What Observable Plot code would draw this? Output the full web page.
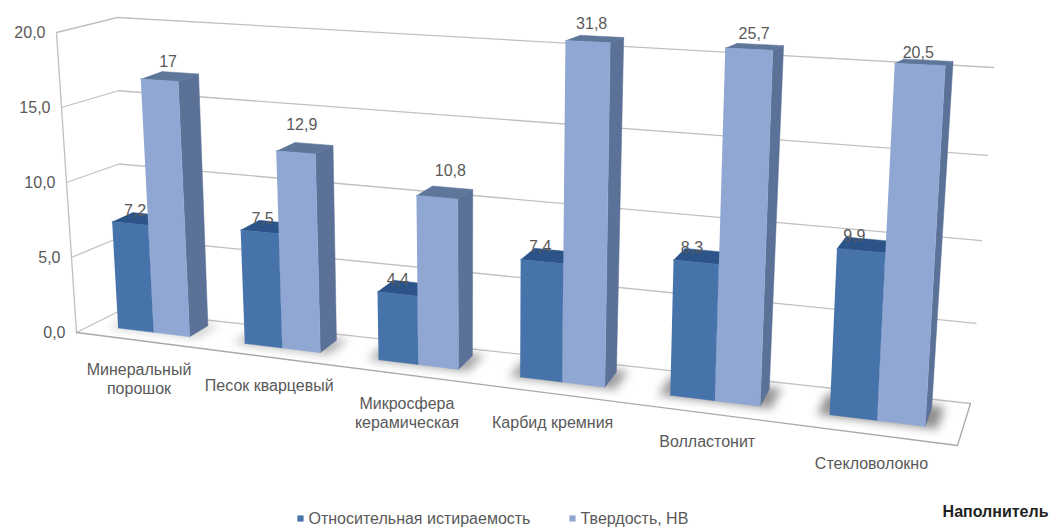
<!DOCTYPE html>
<html lang="ru">
<head>
<meta charset="utf-8">
<script src="https://cdn.jsdelivr.net/npm/d3@7"></script>
<script src="https://cdn.jsdelivr.net/npm/@observablehq/plot@0.6"></script>
<style>
  html, body { margin: 0; background: #fff; }
  svg { display: block; }
</style>
</head>
<body>
<div id="chart"></div>
<script>
// Filler categories and the two measured series
const categories = ["Минеральный\nпорошок", "Песок кварцевый", "Микросфера\nкерамическая", "Карбид кремния", "Волластонит", "Стекловолокно"];
const abrasion = [7.2, 7.5, 4.4, 7.4, 8.3, 9.9];
const hardness = [17, 12.9, 10.8, 31.8, 25.7, 20.5];
const seriesNames = ["Относительная истираемость", "Твердость, НВ"];
const yTicks = [0, 5, 10, 15, 20];
const axisTitle = "Наполнитель";

// Bars above the axis maximum are cut off just over the top of the wall
const barCap = 20.9;

// Corners of the 3D box on screen, keyed [category, depth, height]
const wallBox = {
  "000": [76, 332], "100": [957, 445], "010": [120, 310], "110": [970, 403],
  "001": [56, 32],  "101": [977, 77],  "011": [117, 17],  "111": [993, 67]
};
// The columns lean a little more than the walls do
const barBox = {
  ...wallBox,
  "001": [56, 36], "101": [977, 80], "011": [106, 20], "111": [993, 70]
};
const widthPerspective = -0.16;
const heightPerspective = -0.06;

const heightScale = Plot.scale({y: {domain: [0, 20], range: [0, 1]}});
const mix = (a, b, k) => a + (b - a) * k;

function project(t, v, value, box = wallBox) {
  const u = t * (1 + widthPerspective) / (1 + widthPerspective * t);
  const n0 = heightScale.apply(value);
  const c = heightPerspective * u;
  const n = n0 * (1 + c) / (1 + c * n0);
  return [0, 1].map((axis) => {
    const level = (h) => mix(
      mix(box[`00${h}`][axis], box[`10${h}`][axis], u),
      mix(box[`01${h}`][axis], box[`11${h}`][axis], u),
      v
    );
    return mix(level(0), level(1), n);
  });
}

// Column layout inside a category slot: gap 1.5 bar widths, two bars side by side
const slots = categories.length;
const barWidth = 1 / 3.5;
const depthFront = 0.35;
const depthBack = 0.8;
const barStart = (i, s) => (i + 0.75 * barWidth + s * barWidth) / slots;
const barEnd = (i, s) => (i + 0.75 * barWidth + (s + 1) * barWidth) / slots;

const palette = [
  {front: "#4673aa", top: "#2c5488", side: "#35588a"},
  {front: "#8fa7d2", top: "#5f769b", side: "#5b7197"}
];
const shadowStrength = [0.3, 0.5, 0.6, 0.65, 0.7, 0.75];

const faces = [];
const shadows = [];
function addFace(rows, id, fill, corners, box, opacity = 1) {
  for (const [t, v, h] of corners) {
    const [x, y] = project(t, v, h, box);
    rows.push({id, fill, x, y, opacity});
  }
}

categories.forEach((_, i) => {
  const a = barStart(i, 0) - 0.012, b = barEnd(i, 1) + 0.012;
  addFace(shadows, `s${i}`, "#6a6a6a", [[a, 0.32, 0], [b, 0.32, 0], [b, 0.86, 0], [a, 0.86, 0]], barBox, shadowStrength[i]);
  [abrasion[i], hardness[i]].forEach((value, s) => {
    const h = Math.min(value, barCap);
    const t0 = barStart(i, s), t1 = barEnd(i, s);
    const tone = palette[s];
    addFace(faces, `${i}-${s}-side`, tone.side, [[t1, depthFront, 0], [t1, depthBack, 0], [t1, depthBack, h], [t1, depthFront, h]], barBox);
    addFace(faces, `${i}-${s}-top`, tone.top, [[t0, depthFront, h], [t1, depthFront, h], [t1, depthBack, h], [t0, depthBack, h]], barBox);
    addFace(faces, `${i}-${s}-front`, tone.front, [[t0, depthFront, 0], [t1, depthFront, 0], [t1, depthFront, h], [t0, depthFront, h]], barBox);
  });
});

// Wall gridlines and the floor outline
const frame = [];
const addPath = (id, points) => points.forEach(([t, v, h]) => {
  const [x, y] = project(t, v, h);
  frame.push({id, x, y});
});
yTicks.forEach((tick) => addPath(`g${tick}`, [[0, 0, tick], [0, 1, tick], [1, 1, tick]]));
addPath("axis", [[0, 0, 0], [0, 0, 20]]);
addPath("floor", [[0, 0, 0], [1, 0, 0], [1, 1, 0]]);

const tickLabels = yTicks.map((tick) => {
  const [x, y] = project(0, 0, tick);
  return {x: x - 11, y, text: tick.toFixed(1).replace(".", ",")};
});

// Category names are centred under each slot, below the front floor edge
const categoryLabels = categories.map((text, i) => {
  const [x, y] = project((i + 0.5) / slots, 0, 0);
  return {x, y: y + 28 + 9.5 * (text.split("\n").length - 1), text};
});

// Value labels float above the back edge of each column's top face
const labelOffset = [{dx: -15, dy: -3}, {dx: -12, dy: -11}];
const hardnessLabelNudge = [[0, 0], [0, -8], [10, -6], [2, -2], [6, 0], [2, 4]];
const valueLabels = categories.flatMap((_, i) => [abrasion[i], hardness[i]].map((value, s) => {
  const [x, y] = project((barStart(i, s) + barEnd(i, s)) / 2, depthBack, Math.min(value, barCap), barBox);
  const [nx, ny] = s === 1 ? hardnessLabelNudge[i] : [0, 0];
  return {x: x + labelOffset[s].dx + nx, y: y + labelOffset[s].dy + ny, text: String(value).replace(".", ",")};
}));

const legend = [
  {x: 300, y: 518, text: seriesNames[0], fill: palette[0].front},
  {x: 572, y: 518, text: seriesNames[1], fill: palette[1].front}
];

const ink = "#595959";
const chart = Plot.plot({
  width: 1050,
  height: 527,
  margin: 0,
  x: {domain: [0, 1050], range: [0, 1050], axis: null},
  y: {domain: [0, 527], range: [0, 527], axis: null},
  color: {type: "identity"},
  style: {fontFamily: "'Liberation Sans', Arial, sans-serif", background: "#fff"},
  marks: [
    Plot.line(frame.filter((d) => d.id[0] === "g" || d.id === "axis"), {x: "x", y: "y", z: "id", stroke: "#c0c0c0", strokeWidth: 1.3}),
    Plot.line(frame.filter((d) => d.id === "floor"), {x: "x", y: "y", z: "id", stroke: "#a9a9a9", strokeWidth: 1.3}),
    Plot.line(shadows, {x: "x", y: "y", z: "id", fill: "fill", stroke: "none", fillOpacity: "opacity", imageFilter: "blur(5px)"}),
    Plot.line(faces, {x: "x", y: "y", z: "id", fill: "fill", stroke: "fill", strokeWidth: 0.5}),
    Plot.text(tickLabels, {x: "x", y: "y", text: "text", textAnchor: "end", fontSize: 16, fill: ink}),
    Plot.text(categoryLabels, {x: "x", y: "y", text: "text", fontSize: 16, lineHeight: 1.19, fill: ink}),
    Plot.text(valueLabels, {x: "x", y: "y", text: "text", fontSize: 16, fill: ink}),
    Plot.dot(legend, {x: "x", y: "y", fill: "fill", symbol: "square", r: 3.5}),
    Plot.text(legend, {x: "x", y: "y", text: "text", dx: 8, textAnchor: "start", fontSize: 16, fill: ink}),
    Plot.text([axisTitle], {x: () => 1048, y: () => 511, text: (d) => d, textAnchor: "end", fontSize: 16, fontWeight: "bold", fill: "#222"})
  ]
});
document.getElementById("chart").append(chart);
</script>
</body>
</html>
